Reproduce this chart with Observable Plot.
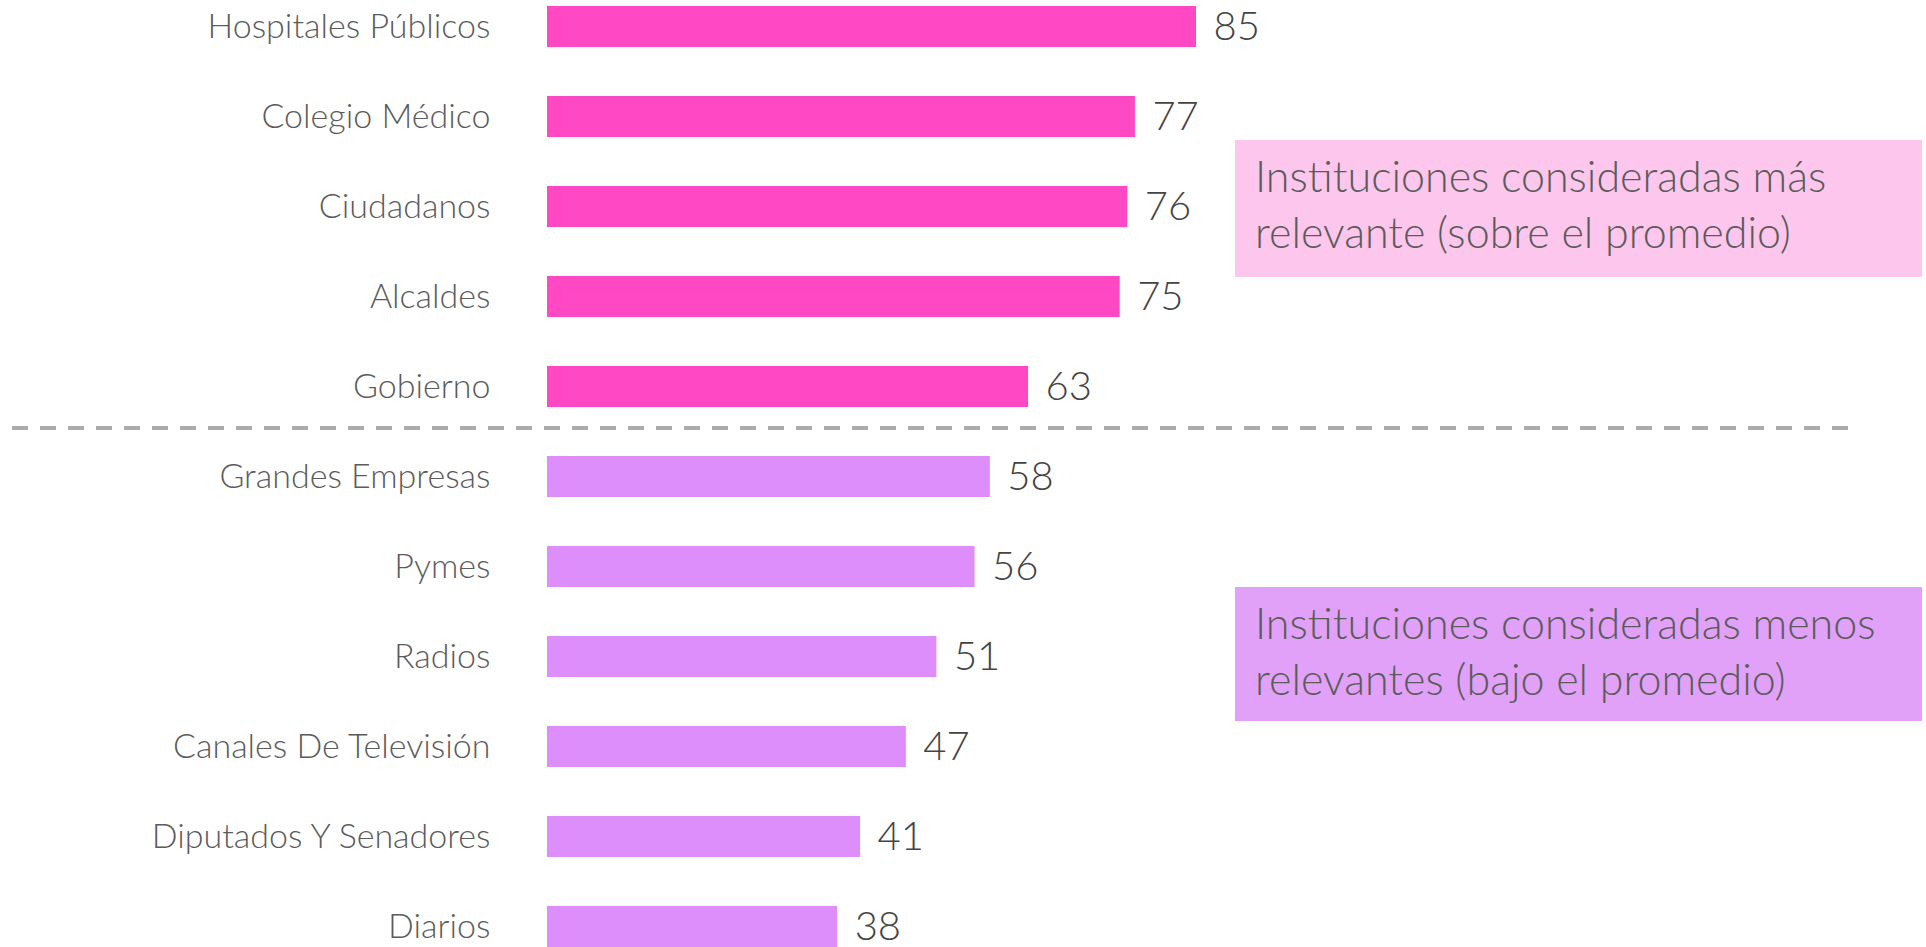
<!DOCTYPE html>
<html>
<head>
<meta charset="utf-8">
<script src="https://cdn.jsdelivr.net/npm/d3@7"></script>
<script src="https://cdn.jsdelivr.net/npm/@observablehq/plot@0.6"></script>
<style>
  html, body { margin: 0; padding: 0; background: #fff; }
  #wrap { position: relative; width: 1926px; height: 947px; overflow: hidden; font-family: Lato, "Open Sans", sans-serif; font-weight: 300; }
  .note { position: absolute; box-sizing: border-box; color: #5b5b5b; font-size: 43px; line-height: 56px; font-weight: 300; padding: 8px 0 0 20px; }
</style>
</head>
<body>
<div id="wrap"></div>
<script>
const institutions = ["Hospitales Públicos", "Colegio Médico", "Ciudadanos", "Alcaldes", "Gobierno",
  "Grandes Empresas", "Pymes", "Radios", "Canales De Televisión", "Diputados Y Senadores", "Diarios"];
const values = [85, 77, 76, 75, 63, 58, 56, 51, 47, 41, 38];
const groups = ["alta", "alta", "alta", "alta", "alta", "baja", "baja", "baja", "baja", "baja", "baja"];
const groupNames = ["alta", "baja"];
const groupColors = ["#FF48C4", "#DD8EFA"];
const noteTexts = ["Instituciones consideradas más relevante (sobre el promedio)",
  "Instituciones consideradas menos relevantes (bajo el promedio)"];
const noteColors = ["#FDC6EC", "#E1A1F8"];

const data = institutions.map((name, i) => ({name, value: values[i], group: groups[i]}));

const chart = Plot.plot({
  width: 1926,
  height: 947,
  marginLeft: 547,
  marginRight: 75,
  marginTop: 6,
  marginBottom: 0,
  style: {fontFamily: "Lato, 'Open Sans', sans-serif", fontWeight: 300, color: "#5b5b5b", background: "transparent"},
  x: {domain: [0, 85], range: [547, 1196], axis: null},
  y: {domain: institutions, paddingInner: 0.544, paddingOuter: 0, round: false, axis: null},
  color: {domain: groupNames, range: groupColors},
  marks: [
    Plot.barX(data, {x: "value", y: "name", fill: "group"}),
    Plot.text(data, {x: 0, y: "name", text: "name", textAnchor: "end", dx: -57, fontSize: 34, fill: "#5b5b5b", fontWeight: 300}),
    Plot.text(data, {x: "value", y: "name", text: d => String(d.value), textAnchor: "start", dx: 17, fontSize: 40, fill: "#444", fontWeight: 300}),
    Plot.ruleY(["Gobierno"], {y: d => d, dy: 41, stroke: "#ABABAB", strokeWidth: 4, strokeDasharray: "16,12", insetLeft: -535})
  ]
});

const wrap = document.getElementById("wrap");
wrap.appendChild(chart);

const notePos = [
  {left: 1235, top: 140, width: 687, height: 137},
  {left: 1235, top: 587, width: 687, height: 134}
];
noteTexts.forEach((t, i) => {
  const d = document.createElement("div");
  d.className = "note";
  d.textContent = t;
  Object.assign(d.style, {left: notePos[i].left + "px", top: notePos[i].top + "px",
    width: notePos[i].width + "px", height: notePos[i].height + "px", background: noteColors[i]});
  wrap.appendChild(d);
});
</script>
</body>
</html>
